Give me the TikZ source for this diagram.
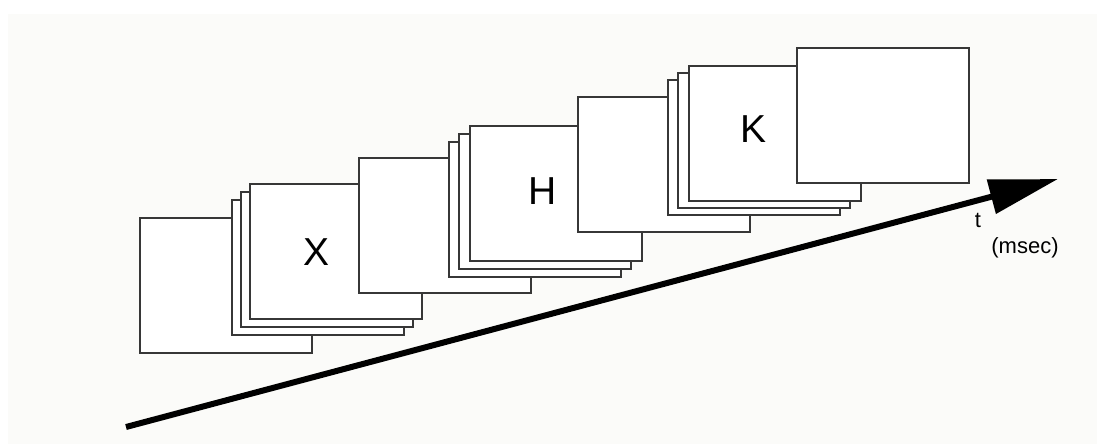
\documentclass[tikz,border=0pt]{standalone}
\usepackage{fontspec}
\setmainfont{Liberation Sans}
\usetikzlibrary{arrows.meta}
\definecolor{paper}{RGB}{251,251,249}
\definecolor{edge}{RGB}{55,55,55}
\begin{document}
\begin{tikzpicture}[x=1pt,y=-1pt,
  card/.style={draw=edge, fill=white, line width=1.7pt, anchor=north west,
    inner sep=0pt, minimum width=172pt, minimum height=135pt},
  letter/.style={inner sep=0pt, font=\fontsize{39}{39}\selectfont},
  unit/.style={inner sep=0pt, font=\fontsize{22}{22}\selectfont}]
  \useasboundingbox (0,0) rectangle (1097,444);
  \fill[paper] (8,14) rectangle (1097,444);

  % first blank frame
  \node[card] (b1) at (139,217) {};
  % X frames
  \node[card] (x1) at (231,199) {};
  \node[card] (x2) at (240,191) {};
  \node[card] (x3) at (249,183) {};
  \node[letter] (lx) at (317,252) {X};
  % second blank frame
  \node[card] (b2) at (358,157) {};
  % H frames
  \node[card] (h1) at (448,141) {};
  \node[card] (h2) at (458,133) {};
  \node[card] (h3) at (469,125) {};
  \node[letter] (lh) at (543,191) {H};
  % third blank frame
  \node[card] (b3) at (577,96) {};
  % K frames
  \node[card] (k1) at (667,79) {};
  \node[card] (k2) at (677,72) {};
  \node[card] (k3) at (688,65) {};
  \node[letter] (lk) at (753,129) {K};
  % last blank frame
  \node[card] (b4) at (796,47) {};

  % time axis
  \coordinate (tstart) at (126,427);
  \coordinate (tend) at (1058,179);
  \draw[line width=6pt, -{Triangle[length=69pt,width=34pt]}] (tstart) -- (tend);
  \node[unit] (tl) at (978,220) {t};
  \node[unit] (ms) at (1025,248) {(msec)};
\end{tikzpicture}
\end{document}
